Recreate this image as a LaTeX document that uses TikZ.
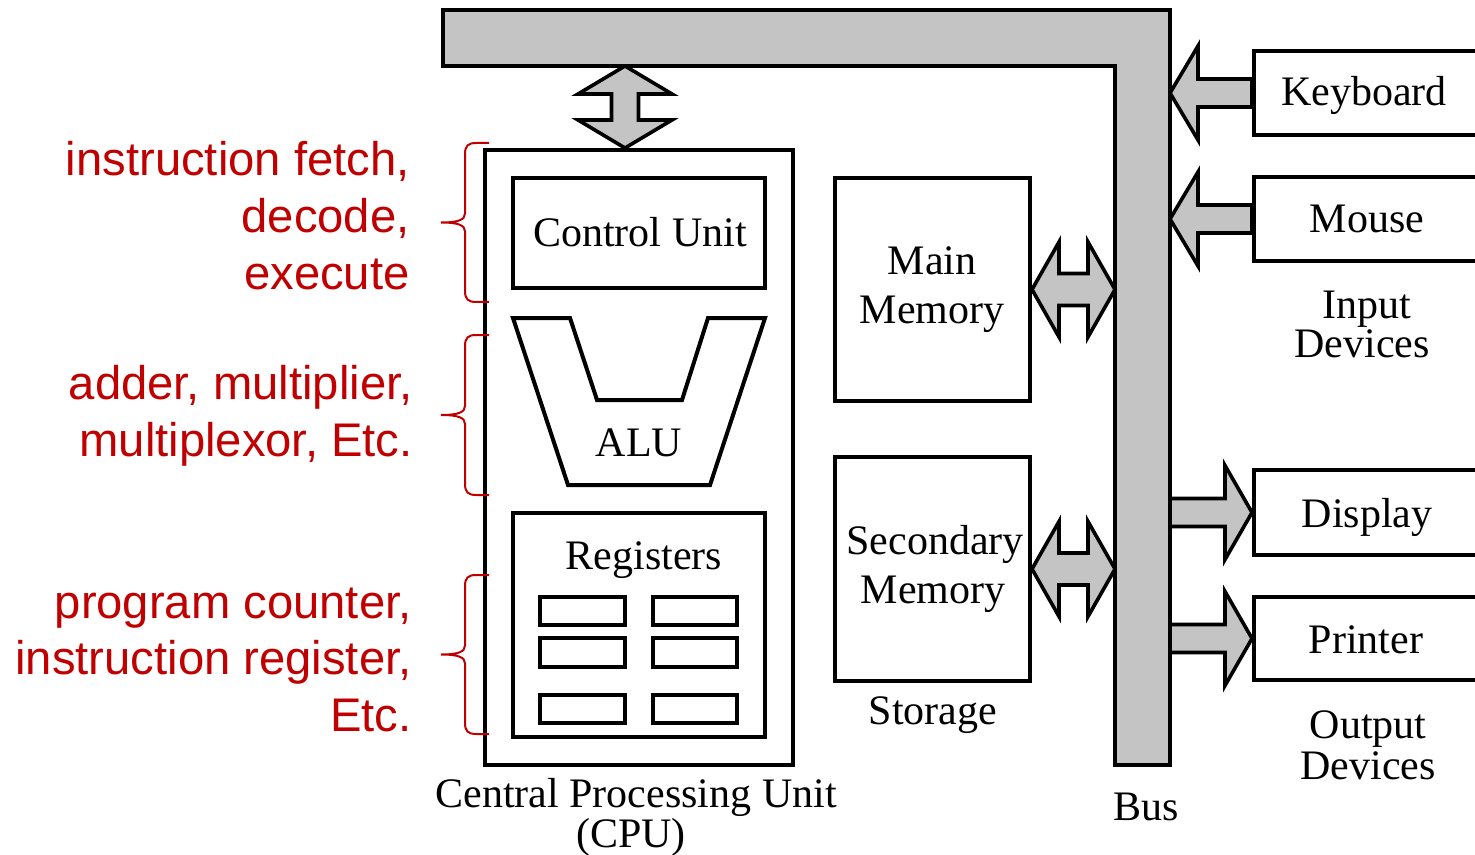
\documentclass[tikz,border=0pt]{standalone}
\usepackage{fontspec}
\newfontfamily\tnr{Liberation Serif}
\newfontfamily\arl{Liberation Sans}
\usetikzlibrary{calc,fit}
\definecolor{annred}{RGB}{192,0,0}
\definecolor{busgray}{RGB}{196,196,196}

% horizontal single block arrow: #1 tail, #2 tip, #3 signed head length, #4 shaft half, #5 head half
\newcommand{\harrow}[5]{%
  \filldraw[blockarrow] let \p1=(#1), \p2=(#2) in
   (\x1,\y2+#4) -- (\x2-#3,\y2+#4) -- (\x2-#3,\y2+#5) -- (\x2,\y2) --
   (\x2-#3,\y2-#5) -- (\x2-#3,\y2-#4) -- (\x1,\y2-#4) -- cycle;}
% horizontal double block arrow: #1 left tip, #2 right tip
\newcommand{\hdarrow}[5]{%
  \filldraw[blockarrow] let \p1=(#1), \p2=(#2) in
   (\x1,\y1) -- (\x1+#3,\y1+#5) -- (\x1+#3,\y1+#4) -- (\x2-#3,\y1+#4) --
   (\x2-#3,\y1+#5) -- (\x2,\y1) -- (\x2-#3,\y1-#5) -- (\x2-#3,\y1-#4) --
   (\x1+#3,\y1-#4) -- (\x1+#3,\y1-#5) -- cycle;}
% vertical double block arrow: #1 top tip, #2 bottom tip
\newcommand{\vdarrow}[5]{%
  \filldraw[blockarrow] let \p1=(#1), \p2=(#2) in
   (\x1,\y1) -- (\x1+#5,\y1-#3) -- (\x1+#4,\y1-#3) -- (\x1+#4,\y2+#3) --
   (\x1+#5,\y2+#3) -- (\x1,\y2) -- (\x1-#5,\y2+#3) -- (\x1-#4,\y2+#3) --
   (\x1-#4,\y1-#3) -- (\x1-#5,\y1-#3) -- cycle;}
% red curly brace: #1 top y, #2 bottom y
\newcommand{\redbrace}[2]{%
  \draw[bracestyle] (489,#1) -- (476,#1) .. controls (468,#1) and (465,#1+3) .. (465,#1+11)
    -- (465,{(#1+#2)/2-9}) .. controls (465,{(#1+#2)/2-3}) and (459,{(#1+#2)/2}) .. (441,{(#1+#2)/2})
    .. controls (459,{(#1+#2)/2}) and (465,{(#1+#2)/2+3}) .. (465,{(#1+#2)/2+9})
    -- (465,#2-11) .. controls (465,#2-3) and (468,#2) .. (476,#2) -- (489,#2);}

\begin{document}
\begin{tikzpicture}[x=0.5pt,y=-0.5pt,
  box/.style={draw, line width=2pt, inner sep=0pt},
  regbox/.style={draw, line width=1.6pt, inner sep=0pt},
  bus/.style={draw, fill=busgray, line width=2pt, line join=miter},
  blockarrow/.style={draw, fill=busgray, line width=1.8pt, line join=miter},
  bracestyle/.style={draw=annred, line width=1pt},
  lbl/.style={font=\tnr\fontsize{21}{24}\selectfont, inner sep=0pt, anchor=base},
  ann/.style={font=\arl\fontsize{23.6}{28}\selectfont, text=annred, inner sep=0pt, anchor=base east}]
\clip (0,0) rectangle (1475,855);

% bus
\coordinate (b1) at (443,10);
\coordinate (b2) at (1170,10);
\coordinate (b3) at (1170,765);
\coordinate (b4) at (1115,765);
\coordinate (b5) at (1115,66);
\coordinate (b6) at (443,66);
\filldraw[bus] (b1) -- (b2) -- (b3) -- (b4) -- (b5) -- (b6) -- cycle;

% CPU
\node[box, fit={(485,150) (793,765)}] (cpu) {};
\node[box, fit={(513,178) (765,288)}] (cu) {};
\node[lbl] (cutext) at (640,247) {Control Unit};
\draw[line width=2pt, line join=miter] (513,318) -- (570,318) -- (597,400) -- (682,400) -- (708,318) -- (765,318) -- (710,485) -- (568,485) -- cycle;
\node[lbl] (alutext) at (639,456) {ALU};
\node[box, fit={(513,513) (765,737)}] (regs) {};
\node[lbl] (regtext) at (644,569) {Registers};
\node[regbox, fit={(540,597) (625,625)}] (r1) {};
\node[regbox, fit={(653,597) (737,625)}] (r2) {};
\node[regbox, fit={(540,638) (625,667)}] (r3) {};
\node[regbox, fit={(653,638) (737,667)}] (r4) {};
\node[regbox, fit={(540,695) (625,723)}] (r5) {};
\node[regbox, fit={(653,695) (737,723)}] (r6) {};
\node[lbl] (cpu1) at (636,807) {Central Processing Unit};
\node[lbl] (cpu2) at (631,847) {(CPU)};

% storage
\node[box, fit={(835,178) (1030,401)}] (mm) {};
\node[lbl] (mm1) at (932,275) {Main};
\node[lbl] (mm2) at (932,323) {Memory};
\node[box, fit={(835,457) (1030,681)}] (sm) {};
\node[lbl] (sm1) at (935,554) {Secondary};
\node[lbl] (sm2) at (933,603) {Memory};
\node[lbl] (stor) at (933,724) {Storage};

% devices
\node[box, fit={(1254,51) (1500,135)}] (kb) {};
\node[lbl] (kbtext) at (1364,106) {Keyboard};
\node[box, fit={(1254,177) (1500,261)}] (mouse) {};
\node[lbl] (mousetext) at (1367,233) {Mouse};
\node[lbl] (in1) at (1367,318) {Input};
\node[lbl] (in2) at (1362,357) {Devices};
\node[box, fit={(1254,470) (1500,555)}] (disp) {};
\node[lbl] (disptext) at (1367,527) {Display};
\node[box, fit={(1254,597) (1500,680)}] (prn) {};
\node[lbl] (prntext) at (1366,653) {Printer};
\node[lbl] (out1) at (1368,738) {Output};
\node[lbl] (out2) at (1368,779) {Devices};
\node[lbl] (bustext) at (1146,820) {Bus};

% block arrows
\coordinate (cpuport) at ($(cpu.north)+(-14,0)$);
\vdarrow{cpuport |- b5}{cpuport}{14pt}{6.75pt}{23.5pt}
\hdarrow{mm.east}{b5 |- mm.east}{13.5pt}{8pt}{23.75pt}
\hdarrow{sm.east}{b5 |- sm.east}{13.5pt}{8pt}{23.75pt}
\harrow{kb.west}{b2 |- kb.west}{-14pt}{7pt}{23.5pt}
\harrow{mouse.west}{b2 |- mouse.west}{-14pt}{7pt}{23.5pt}
\harrow{b2 |- disp.west}{disp.west}{13.5pt}{7pt}{23.5pt}
\harrow{b2 |- prn.west}{prn.west}{13.5pt}{7pt}{23.5pt}

% annotations
\redbrace{143}{302}
\redbrace{335}{495}
\redbrace{575}{734}
\node[ann] (a1) at (410,176) {instruction fetch,};
\node[ann] (a2) at (410,233) {decode,};
\node[ann] (a3) at (410,290) {execute};
\node[ann] (a4) at (413,399) {adder, multiplier,};
\node[ann] (a5) at (413,456) {multiplexor, Etc.};
\node[ann] (a6) at (412,618) {program counter,};
\node[ann] (a7) at (412,674) {instruction register,};
\node[ann] (a8) at (412,731) {Etc.};
\end{tikzpicture}
\end{document}
